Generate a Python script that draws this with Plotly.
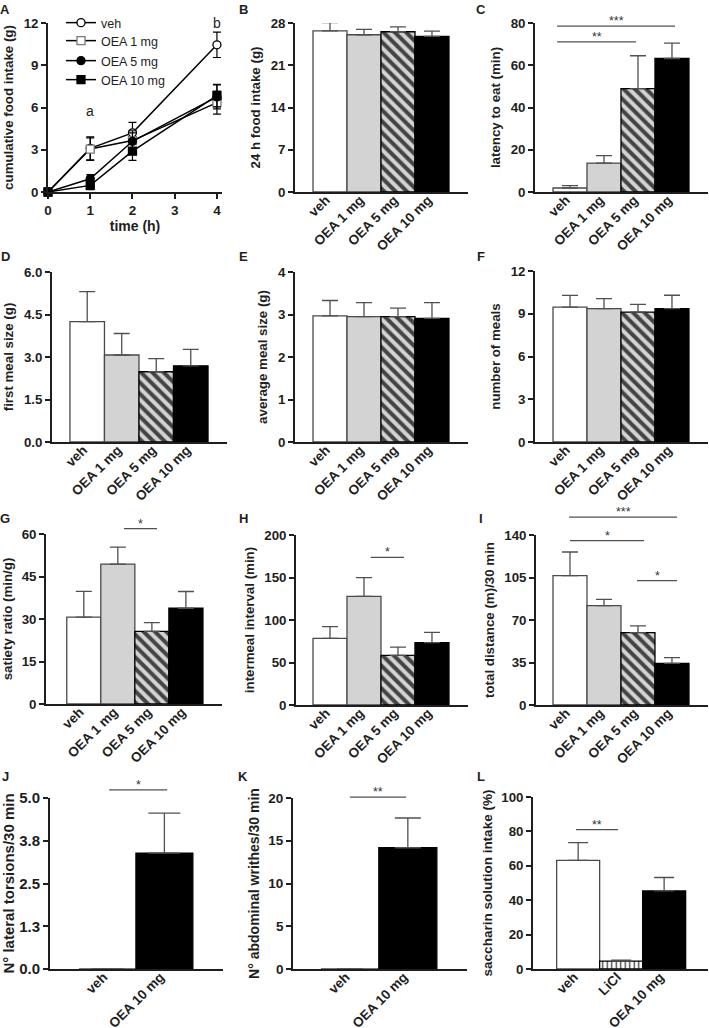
import plotly.graph_objects as go

W, H = 709, 1028
FONT = "Liberation Sans, Arial, sans-serif"
INK = "#1e1e1e"
EDGE = "#4a4a4a"

# ------------------------- data -------------------------
groups4 = ["veh", "OEA 1 mg", "OEA 5 mg", "OEA 10 mg"]
groups2 = ["veh", "OEA 10 mg"]
groups3 = ["veh", "LiCl", "OEA 10 mg"]

time_h = [0, 1, 2, 4]
a_veh = [0, 3.1, 4.2, 10.45]
a_veh_err = [0, 0.82, 0.75, 0.9]
a_oea1 = [0, 3.05, 3.65, 6.35]
a_oea1_err = [0, 0.8, 0.7, 0.82]
a_oea5 = [0, 0.94, 3.6, 6.75]
a_oea5_err = [0, 0.3, 0.6, 0.85]
a_oea10 = [0, 0.47, 2.9, 6.85]
a_oea10_err = [0, 0.3, 0.65, 0.8]

b_intake24 = [26.7, 26.05, 26.55, 25.8]
b_err = [1.38, 0.9, 0.8, 0.85]
c_latency = [1.9, 13.7, 48.9, 63.2]
c_err = [1.1, 3.5, 15.6, 7.3]
d_first_meal = [4.25, 3.07, 2.48, 2.69]
d_err = [1.06, 0.76, 0.46, 0.58]
e_avg_meal = [2.97, 2.95, 2.95, 2.91]
e_err = [0.36, 0.33, 0.2, 0.37]
f_n_meals = [9.47, 9.36, 9.12, 9.36]
f_err = [0.82, 0.7, 0.54, 0.94]
g_satiety = [30.65, 49.4, 25.6, 33.8]
g_err = [9.1, 6.0, 3.1, 5.9]
h_intermeal = [78.4, 127.8, 58.4, 73.3]
h_err = [13.8, 22.0, 9.8, 12.2]
i_distance = [106.5, 81.8, 59.6, 34.3]
i_err = [19.5, 5.2, 5.5, 4.7]
j_torsions = [0, 3.39]
j_err = [0, 1.17]
k_writhes = [0, 14.18]
k_err = [0, 3.48]
l_saccharin = [63.2, 4.6, 45.4]
l_err = [10.3, 0.6, 7.8]

# significance brackets: (from, to, level, label)
c_sig = [(-0.38, 3.09, 78.5, "***"), (-0.38, 1.94, 71.1, "**")]
g_sig = [(1.18, 2.15, 61.9, "*")]
h_sig = [(1.2, 2.18, 173.7, "*")]
i_sig = [(-0.03, 3.15, 154.8, "***"), (0.0, 2.18, 135.3, "*"), (1.97, 3.15, 102.4, "*")]
j_sig = [(0.03, 1.05, 5.24, "*")]
k_sig = [(0.0, 0.97, 20.1, "**")]
l_sig = [(-0.05, 0.93, 81.0, "**")]

# y tick labels
a_yticks = [0, 3, 6, 9, 12]
b_yticks = [0, 7, 14, 21, 28]
c_yticks = [0, 20, 40, 60, 80]
d_yticks = [0, 1.5, 3.0, 4.5, 6.0]
e_yticks = [0, 1, 2, 3, 4]
f_yticks = [0, 3, 6, 9, 12]
g_yticks = [0, 15, 30, 45, 60]
h_yticks = [0, 50, 100, 150, 200]
i_yticks = [0, 35, 70, 105, 140]
j_yticks = [0, 1.25, 2.5, 3.75, 5.0]
j_ytext = ["0.0", "1.3", "2.5", "3.8", "5.0"]
k_yticks = [0, 5, 10, 15, 20]
l_yticks = [0, 20, 40, 60, 80, 100]
a_xticks = [0, 1, 2, 3, 4]

# ------------------------- layout helpers -------------------------
fig = go.Figure()
layout = dict(
    template="none",
    width=W, height=H, margin=dict(l=0, r=0, t=0, b=0, autoexpand=False),
    paper_bgcolor="white", plot_bgcolor="rgba(0,0,0,0)",
    font=dict(family=FONT, color=INK), showlegend=True,
    annotations=[],
)

def dx(a, b):
    return [a / W, b / W]

def dy(top, bottom):
    return [1 - bottom / H, 1 - top / H]

def bold(size):
    return dict(family=FONT, size=size, color=INK, weight="bold")

def y_axis(n, box, ymax, tickvals, ticktext, title, tsize=13.3, ksize=13.3, standoff=7):
    x0, top, x1, bottom = box
    layout[f"yaxis{n}"] = dict(
        domain=dy(top, bottom), range=[0, ymax], anchor=f"x{n}", automargin=False,
        tickmode="array", tickvals=tickvals, ticktext=ticktext,
        ticks="outside", ticklen=5, tickwidth=1.5, tickcolor=INK,
        showline=True, linecolor=INK, linewidth=1.8,
        showgrid=False, zeroline=False, tickfont=bold(ksize),
        title=dict(text=title, font=bold(tsize), standoff=standoff),
    )

def fmt(v, nd):
    return f"{v:.{nd}f}"

def bar_panel(n, box, xr, cats, vals, errs, ymax, yt, ytxt, title,
              colors, shapes, cap, sig, tsize=13.3, ksize=13.3, standoff=7):
    x0, top, x1, bottom = box
    xs = list(range(len(cats)))
    layout[f"xaxis{n}"] = dict(
        domain=dx(x0, x1), range=xr, anchor=f"y{n}", automargin=False,
        tickmode="array", tickvals=xs, ticktext=cats, tickangle=-45,
        ticks="", showline=True, linecolor=INK, linewidth=1.8,
        showgrid=False, zeroline=False, tickfont=bold(13.5),
        ticklabelstandoff=-7, ticklabelshift=-4,
    )
    y_axis(n, box, ymax, yt, ytxt, title, tsize, ksize, standoff)
    fig.add_trace(go.Bar(
        x=xs, y=vals, width=1.0, xaxis=f"x{n}", yaxis=f"y{n}",
        marker=dict(
            color=colors,
            line=dict(color=[EDGE if s == "" and c != "black" else "black"
                             for c, s in zip(colors, shapes)], width=1.3),
            pattern=dict(shape=shapes, fgcolor="black", fgopacity=1, fillmode="overlay",
                         size=[8 if s == "\\" else 4.5 for s in shapes],
                         solidity=[0.5 if s == "\\" else 0.3 for s in shapes]),
        ),
        error_y=dict(type="data", symmetric=False, array=errs,
                     arrayminus=[0] * len(errs), color="#505050",
                     thickness=1.3, width=cap),
        showlegend=False, hoverinfo="skip",
    ))
    if sig:
        hn = n + 12
        ext = min(45, top)
        layout[f"xaxis{hn}"] = dict(domain=dx(x0, x1), range=xr, anchor=f"y{hn}",
                                   visible=False, fixedrange=True, automargin=False)
        layout[f"yaxis{hn}"] = dict(domain=dy(top - ext, bottom),
                                   range=[0, ymax * (bottom - top + ext) / (bottom - top)],
                                   anchor=f"x{hn}", visible=False, fixedrange=True,
                                   automargin=False)
        for (s0, s1, lev, lab) in sig:
            fig.add_trace(go.Scatter(
                x=[s0, s1], y=[lev, lev], mode="lines",
                line=dict(color="#505050", width=1.2),
                xaxis=f"x{hn}", yaxis=f"y{hn}", showlegend=False, hoverinfo="skip",
            ))
            layout["annotations"].append(dict(
                x=(s0 + s1) / 2, y=lev, xref=f"x{hn}", yref=f"y{hn}", text=lab,
                showarrow=False, yanchor="middle", yshift=5,
                font=dict(family=FONT, size=12.5, color="#333333"),
            ))

C4 = ["white", "#d3d3d3", "#d3d3d3", "black"]
S4 = ["", "", "\\", ""]

# ------------------------- panel A -------------------------
boxA = (48, 23, 222, 192)
layout["xaxis1"] = dict(
    domain=dx(boxA[0], boxA[2]), range=[0, 4.12], anchor="y1", automargin=False,
    tickmode="array", tickvals=a_xticks, ticks="outside", ticklen=5, tickwidth=1.5,
    tickcolor=INK, showline=True, linecolor=INK, linewidth=1.8, showgrid=False,
    zeroline=False, tickfont=bold(13.5),
    title=dict(text="time (h)", font=bold(14), standoff=4),
)
y_axis(1, boxA, 12, a_yticks, [str(v) for v in a_yticks], "cumulative food intake (g)")

a_series = [
    ("veh", a_veh, a_veh_err, "circle", "white", "black"),
    ("OEA 1 mg", a_oea1, a_oea1_err, "square", "white", "#777777"),
    ("OEA 5 mg", a_oea5, a_oea5_err, "circle", "black", "black"),
    ("OEA 10 mg", a_oea10, a_oea10_err, "square", "black", "black"),
]
legend_ids = ["legend", "legend2", "legend3", "legend4"]
legend_rows = [23, 41, 61, 80]
for (name, ys, es, sym, fill, edge), lid, ly in zip(a_series, legend_ids, legend_rows):
    fig.add_trace(go.Scatter(
        x=time_h, y=ys, name=name, mode="lines+markers", xaxis="x1", yaxis="y1",
        line=dict(color="black", width=1.5),
        marker=dict(symbol=sym, size=8, color=fill, line=dict(color=edge, width=1.3)),
        error_y=dict(type="data", array=es, color="black", thickness=1.2, width=4),
        cliponaxis=False, hoverinfo="skip", legend=lid,
    ))
    layout[lid] = dict(
        x=61 / W, y=1 - ly / H, xanchor="left", yanchor="middle",
        bgcolor="rgba(0,0,0,0)", font=dict(family=FONT, size=12.5, color=INK),
        itemwidth=30,
    )
layout["annotations"] += [
    dict(x=1, y=5.76, xref="x1", yref="y1", text="a", showarrow=False,
         font=dict(family=FONT, size=14, color=INK)),
    dict(x=4, y=12.0, xref="x1", yref="y1", text="b", showarrow=False,
         font=dict(family=FONT, size=14, color=INK)),
]

# ------------------------- bar panels -------------------------
bar_panel(2, (295, 23, 468, 192), [-1.03, 4.06], groups4, b_intake24, b_err, 28,
          b_yticks, [str(v) for v in b_yticks], "24 h food intake (g)", C4, S4, 8, None)
bar_panel(3, (535, 23, 708, 192), [-1.03, 4.06], groups4, c_latency, c_err, 80,
          c_yticks, [str(v) for v in c_yticks], "latency to eat (min)", C4, S4, 8, c_sig)
bar_panel(4, (52, 272, 227, 442), [-1.02, 4.05], groups4, d_first_meal, d_err, 6,
          d_yticks, [fmt(v, 1) for v in d_yticks], "first meal size (g)", C4, S4, 8, None)
bar_panel(5, (295, 272, 468, 442), [-1.03, 4.06], groups4, e_avg_meal, e_err, 4,
          e_yticks, [str(v) for v in e_yticks], "average meal size (g)", C4, S4, 8, None)
bar_panel(6, (535, 271, 708, 442), [-1.03, 4.06], groups4, f_n_meals, f_err, 12,
          f_yticks, [str(v) for v in f_yticks], "number of meals", C4, S4, 8, None)
bar_panel(7, (46, 534, 222, 704), [-1.11, 4.06], groups4, g_satiety, g_err, 60,
          g_yticks, [str(v) for v in g_yticks], "satiety ratio (min/g)", C4, S4, 8, g_sig)
bar_panel(8, (296, 535, 468, 705), [-1.0, 4.06], groups4, h_intermeal, h_err, 200,
          h_yticks, [str(v) for v in h_yticks], "intermeal interval (min)", C4, S4, 8, h_sig)
bar_panel(9, (536, 535, 708, 705), [-1.0, 4.06], groups4, i_distance, i_err, 140,
          i_yticks, [str(v) for v in i_yticks], "total distance (m)/30 min", C4, S4, 8, i_sig)
bar_panel(10, (50, 798, 223, 969), [-1.01, 2.03], groups2, j_torsions, j_err, 5,
          j_yticks, j_ytext, "N° lateral torsions/30 min", ["white", "black"], ["", ""], 16, j_sig,
          tsize=15, ksize=15, standoff=4)
bar_panel(11, (293, 798, 467, 969), [-0.98, 2.02], groups2, k_writhes, k_err, 20,
          k_yticks, [str(v) for v in k_yticks], "N° abdominal writhes/30 min", ["white", "black"], ["", ""], 13, k_sig,
          tsize=14, ksize=13.5, standoff=5)
bar_panel(12, (533, 797, 708, 969), [-1.05, 3.02], groups3, l_saccharin, l_err, 100,
          l_yticks, [str(v) for v in l_yticks], "saccharin solution intake (%)",
          ["white", "white", "black"], ["", "|", ""], 10, l_sig, tsize=13.5, ksize=13.3, standoff=6)

# ------------------------- panel letters -------------------------
letters = [("A", 5, 10), ("B", 243, 10), ("C", 481, 10),
           ("D", 5, 256), ("E", 243, 256), ("F", 481, 256),
           ("G", 5, 518), ("H", 243, 518), ("I", 481, 518),
           ("J", 5, 776), ("K", 243, 776), ("L", 481, 776)]
for t, lx, ly in letters:
    layout["annotations"].append(dict(
        x=lx / W, y=1 - ly / H, xref="paper", yref="paper", text=t, showarrow=False,
        xanchor="center", yanchor="middle", font=bold(13),
    ))

fig.update_layout(**layout)
fig.write_html("out.html", config={"displayModeBar": False},
               post_script="document.body.style.margin='0';")
